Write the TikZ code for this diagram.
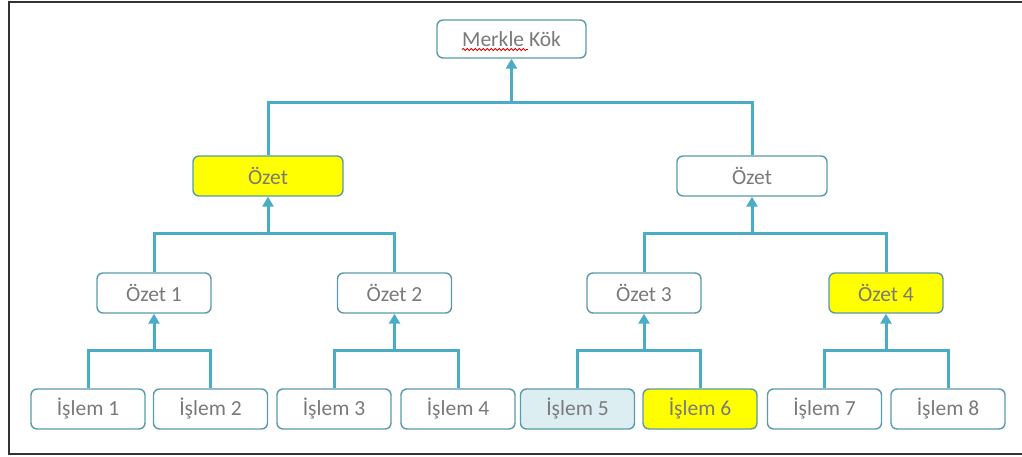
\documentclass[tikz,border=0pt]{standalone}
\usepackage{fontspec}
\setmainfont{Carlito}
\usetikzlibrary{arrows.meta,decorations.pathmorphing}
\definecolor{linkblue}{HTML}{4BACC6}
\definecolor{boxedge}{HTML}{5A9AAA}
\definecolor{txtgray}{HTML}{7A7A7A}
\definecolor{hiyellow}{HTML}{FFFF00}
\definecolor{paleblue}{HTML}{DDEEF2}
\begin{document}
\begin{tikzpicture}[x=1pt,y=-1pt,
  hbox/.style={draw=boxedge,line width=1.4pt,rounded corners=6pt,fill=white,
    text=txtgray,font=\fontsize{21.5}{24}\selectfont,inner sep=0pt,anchor=center},
  topbox/.style={hbox,minimum width=149pt,minimum height=38pt},
  midbox/.style={hbox,minimum width=150pt,minimum height=40pt},
  lowbox/.style={hbox,minimum width=114pt,minimum height=40pt},
  leafbox/.style={hbox,minimum width=114pt,minimum height=40pt},
  link/.style={draw=linkblue,line width=3pt},
  uplink/.style={link,-{Triangle[width=11pt,length=10pt]}}]
\useasboundingbox (0,0) rectangle (1022,457);
% outer frame
\draw[line width=2pt,color=black!80] (1022,2) -- (9,2) -- (9,454) -- (1022,454);

% nodes
\node[topbox] (root) at (511.5,39) {Merkle Kök};
\node[midbox,fill=hiyellow] (hL) at (268,176) {Özet};
\node[midbox] (hR) at (752,176) {Özet};
\node[lowbox] (h1) at (154,293) {Özet 1};
\node[lowbox] (h2) at (394.5,293) {Özet 2};
\node[lowbox] (h3) at (644,293) {Özet 3};
\node[lowbox,fill=hiyellow] (h4) at (886,293) {Özet 4};
\node[leafbox] (t1) at (88,409) {İşlem 1};
\node[leafbox] (t2) at (210.5,409) {İşlem 2};
\node[leafbox] (t3) at (334,409) {İşlem 3};
\node[leafbox] (t4) at (458,409) {İşlem 4};
\node[leafbox,fill=paleblue] (t5) at (577.5,409) {İşlem 5};
\node[leafbox,fill=hiyellow] (t6) at (700,409) {İşlem 6};
\node[leafbox] (t7) at (824.5,409) {İşlem 7};
\node[leafbox] (t8) at (948,409) {İşlem 8};

% spell-check underline under the first word
\draw[red!85!black,line width=0.8pt,decorate,
  decoration={snake,amplitude=1.1pt,segment length=4pt}]
  (462,49.5) -- (528,49.5);

% bars joining sibling pairs, with an arrow up to the parent
\foreach \a/\b/\p/\y in {t1/t2/h1/350,t3/t4/h2/350,t5/t6/h3/350,t7/t8/h4/350,
                         h1/h2/hL/233,h3/h4/hR/233,hL/hR/root/103}{
  \draw[link] (\a.north) -- (\a.north |- 0,\y) -- (\b.north |- 0,\y) -- (\b.north);
  \draw[uplink] (\p.south |- 0,\y) -- (\p.south);
}
\end{tikzpicture}
\end{document}
